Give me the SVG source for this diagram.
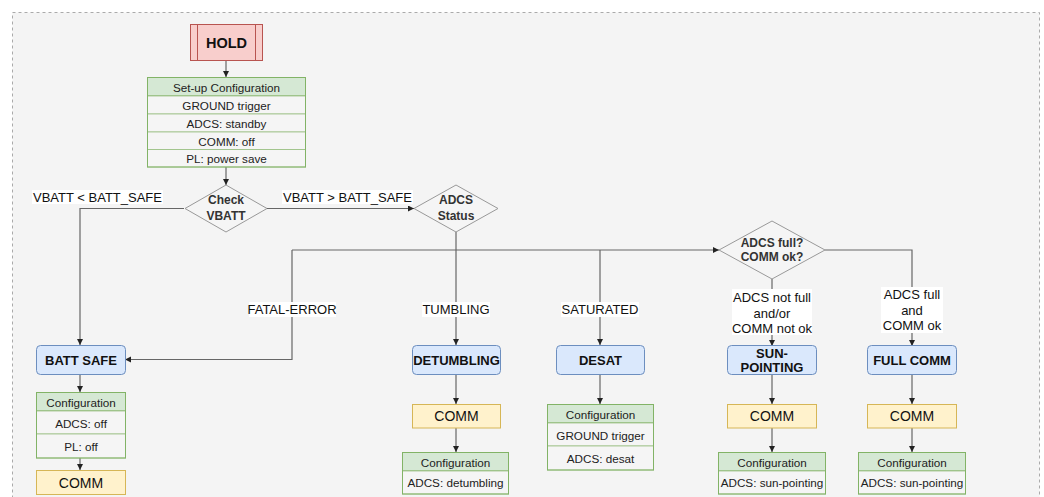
<svg xmlns="http://www.w3.org/2000/svg" width="1044" height="497" viewBox="0 0 1044 497">
  <defs>
    <marker id="arr" markerWidth="8" markerHeight="8" refX="6" refY="3" orient="auto" markerUnits="userSpaceOnUse">
      <path d="M0,0 L6,3 L0,6 Z" fill="#222"/>
    </marker>
    <style>
      text { font-family: "Liberation Sans", Arial, sans-serif; text-anchor: middle; dominant-baseline: central; fill: #111; }
      .frame { fill: #f4f4f4; stroke: #aaa; stroke-dasharray: 3 3; }
      .hold { fill: #f8cecc; stroke: #b85450; }
      .state { fill: #dae8fc; stroke: #6c8ebf; }
      .comm { fill: #fff2cc; stroke: #d6b656; }
      .thead { fill: #d5e8d4; stroke: #82b366; }
      .trow { fill: #f5f5f5; stroke: #82b366; stroke-opacity: 0.6; }
      .dec { fill: #f5f5f5; stroke: #999; }
      .edge { fill: none; stroke: #666; stroke-width: 1.2; }
      .lblbg { fill: #fff; }
      .b13 { font-size: 13px; font-weight: bold; }
      .dt { font-size: 12px; font-weight: bold; fill: #333; }
      .t12 { font-size: 11.7px; fill: #222; }
      .t13 { font-size: 13px; }
      .t14 { font-size: 14px; }
    </style>
  </defs>

  <!-- outer dashed frame -->
  <rect class="frame" x="12.5" y="12.5" width="1027" height="500"/>

  <!-- connectors -->
  <g id="connectors">
    <path class="edge" d="M226,60 V77" marker-end="url(#arr)"/>
    <path class="edge" d="M226,167 V185" marker-end="url(#arr)"/>
    <path class="edge" d="M184,208.5 H80 V345" marker-end="url(#arr)"/>
    <path class="edge" d="M267,208.5 H414" marker-end="url(#arr)"/>
    <path class="edge" d="M456,232 V345" marker-end="url(#arr)"/>
    <path class="edge" d="M292,250 H719" marker-end="url(#arr)"/>
    <path class="edge" d="M292,250 V359.5 H125" marker-end="url(#arr)"/>
    <path class="edge" d="M600,250 V345" marker-end="url(#arr)"/>
    <path class="edge" d="M772,279 V346" marker-end="url(#arr)"/>
    <path class="edge" d="M825,250 H912 V346" marker-end="url(#arr)"/>
    <!-- BATT SAFE chain -->
    <path class="edge" d="M80,375 V392" marker-end="url(#arr)"/>
    <path class="edge" d="M80,458 V470" marker-end="url(#arr)"/>
    <!-- DETUMBLING chain -->
    <path class="edge" d="M456,375 V404" marker-end="url(#arr)"/>
    <path class="edge" d="M456,428 V452" marker-end="url(#arr)"/>
    <!-- DESAT chain -->
    <path class="edge" d="M600,375 V404" marker-end="url(#arr)"/>
    <!-- SUN-POINTING chain -->
    <path class="edge" d="M772,375 V404" marker-end="url(#arr)"/>
    <path class="edge" d="M772,428 V452" marker-end="url(#arr)"/>
    <!-- FULL COMM chain -->
    <path class="edge" d="M912,375 V404" marker-end="url(#arr)"/>
    <path class="edge" d="M912,428 V452" marker-end="url(#arr)"/>

    <!-- edge labels -->
    <rect class="lblbg" x="32" y="190" width="131" height="14"/>
    <text class="t13" x="97.5" y="197">VBATT &lt; BATT_SAFE</text>
    <rect class="lblbg" x="282" y="190" width="131" height="14"/>
    <text class="t13" x="347.5" y="197">VBATT &gt; BATT_SAFE</text>
    <rect class="lblbg" x="249" y="302" width="87" height="15"/>
    <text class="t13" x="292" y="309.5">FATAL-ERROR</text>
    <rect class="lblbg" x="422" y="302" width="68" height="15"/>
    <text class="t13" x="456" y="309.5">TUMBLING</text>
    <rect class="lblbg" x="561" y="302" width="78" height="15"/>
    <text class="t13" x="600" y="309.5">SATURATED</text>
    <rect class="lblbg" x="732" y="289" width="80" height="46"/>
    <text class="t13" x="772" y="297.5">ADCS not full</text>
    <text class="t13" x="772" y="313">and/or</text>
    <text class="t13" x="772" y="328.5">COMM not ok</text>
    <rect class="lblbg" x="881" y="287" width="62" height="46"/>
    <text class="t13" x="912" y="294.5">ADCS full</text>
    <text class="t13" x="912" y="310">and</text>
    <text class="t13" x="912" y="325.5">COMM ok</text>
  </g>

  <!-- HOLD -->
  <g id="hold">
    <rect class="hold" x="190.5" y="24.5" width="72" height="36"/>
    <path d="M197.5,24.5 V60.5 M255.5,24.5 V60.5" stroke="#b85450" fill="none"/>
    <text x="226.5" y="43" style="font-size:14.5px;font-weight:bold">HOLD</text>
  </g>

  <!-- set-up configuration table -->
  <g id="setup-config">
    <rect class="thead" x="147.5" y="77.5" width="158" height="18.5"/>
    <rect class="trow" x="147.5" y="96" width="158" height="18"/>
    <rect class="trow" x="147.5" y="114" width="158" height="18"/>
    <rect class="trow" x="147.5" y="132" width="158" height="17.5"/>
    <rect class="trow" x="147.5" y="149.5" width="158" height="17.5"/>
    <rect x="147.5" y="77.5" width="158" height="89.5" fill="none" stroke="#82b366"/>
    <text class="t12" x="226.5" y="87">Set-up Configuration</text>
    <text class="t12" x="226.5" y="105">GROUND trigger</text>
    <text class="t12" x="226.5" y="123">ADCS: standby</text>
    <text class="t12" x="226.5" y="141">COMM: off</text>
    <text class="t12" x="226.5" y="158.5">PL: power save</text>
  </g>

  <!-- decisions -->
  <g id="check-vbatt">
    <polygon class="dec" points="226,185 267,208.5 226,232 185,208.5"/>
    <text class="dt" x="226" y="200">Check</text>
    <text class="dt" x="226" y="216">VBATT</text>
  </g>
  <g id="adcs-status">
    <polygon class="dec" points="456,185 498,208.5 456,232 414,208.5"/>
    <text class="dt" x="456" y="200">ADCS</text>
    <text class="dt" x="456" y="216">Status</text>
  </g>
  <g id="adcs-comm-check">
    <polygon class="dec" points="772,221 825,250 772,279 719,250"/>
    <text class="dt" x="772" y="243">ADCS full?</text>
    <text class="dt" x="772" y="257">COMM ok?</text>
  </g>

  <!-- BATT SAFE branch -->
  <g id="batt-safe">
    <rect class="state" x="36.5" y="345.5" width="89" height="29" rx="4"/>
    <text class="b13" x="81" y="360">BATT SAFE</text>
  </g>
  <g id="batt-safe-config">
    <rect class="thead" x="36.5" y="392.5" width="89" height="18.5"/>
    <rect class="trow" x="36.5" y="411" width="89" height="23"/>
    <rect class="trow" x="36.5" y="434" width="89" height="24"/>
    <rect x="36.5" y="392.5" width="89" height="65.5" fill="none" stroke="#82b366"/>
    <text class="t12" x="81" y="402">Configuration</text>
    <text class="t12" x="81" y="423">ADCS: off</text>
    <text class="t12" x="81" y="446.5">PL: off</text>
  </g>
  <g id="batt-safe-comm">
    <rect class="comm" x="36.5" y="470.5" width="89" height="24"/>
    <text class="t14" x="81" y="482.5">COMM</text>
  </g>

  <!-- DETUMBLING branch -->
  <g id="detumbling">
    <rect class="state" x="412.5" y="345.5" width="88" height="29" rx="4"/>
    <text class="b13" x="456.5" y="360">DETUMBLING</text>
  </g>
  <g id="detumbling-comm">
    <rect class="comm" x="412.5" y="404.5" width="88" height="23.5"/>
    <text class="t14" x="456.5" y="416">COMM</text>
  </g>
  <g id="detumbling-config">
    <rect class="thead" x="402.5" y="452.5" width="106" height="18.5"/>
    <rect class="trow" x="402.5" y="471" width="106" height="23"/>
    <rect x="402.5" y="452.5" width="106" height="41.5" fill="none" stroke="#82b366"/>
    <text class="t12" x="455.5" y="462">Configuration</text>
    <text class="t12" x="455.5" y="482.5">ADCS: detumbling</text>
  </g>

  <!-- DESAT branch -->
  <g id="desat">
    <rect class="state" x="556.5" y="345.5" width="88" height="29" rx="4"/>
    <text class="b13" x="600.5" y="360">DESAT</text>
  </g>
  <g id="desat-config">
    <rect class="thead" x="547.5" y="404.5" width="106" height="18.5"/>
    <rect class="trow" x="547.5" y="423" width="106" height="23"/>
    <rect class="trow" x="547.5" y="446" width="106" height="24"/>
    <rect x="547.5" y="404.5" width="106" height="65.5" fill="none" stroke="#82b366"/>
    <text class="t12" x="600.5" y="414">Configuration</text>
    <text class="t12" x="600.5" y="435">GROUND trigger</text>
    <text class="t12" x="600.5" y="458.5">ADCS: desat</text>
  </g>

  <!-- SUN-POINTING branch -->
  <g id="sun-pointing">
    <rect class="state" x="727.5" y="345.5" width="89" height="29" rx="4"/>
    <text class="b13" x="772" y="353">SUN-</text>
    <text class="b13" x="772" y="367.5">POINTING</text>
  </g>
  <g id="sun-pointing-comm">
    <rect class="comm" x="727.5" y="404.5" width="89" height="23.5"/>
    <text class="t14" x="772" y="416">COMM</text>
  </g>
  <g id="sun-pointing-config">
    <rect class="thead" x="718.5" y="452.5" width="107" height="18.5"/>
    <rect class="trow" x="718.5" y="471" width="107" height="23"/>
    <rect x="718.5" y="452.5" width="107" height="41.5" fill="none" stroke="#82b366"/>
    <text class="t12" x="772" y="462">Configuration</text>
    <text class="t12" x="772" y="482.5">ADCS: sun-pointing</text>
  </g>

  <!-- FULL COMM branch -->
  <g id="full-comm">
    <rect class="state" x="867.5" y="345.5" width="89" height="29" rx="4"/>
    <text class="b13" x="912" y="360">FULL COMM</text>
  </g>
  <g id="full-comm-comm">
    <rect class="comm" x="867.5" y="404.5" width="89" height="23.5"/>
    <text class="t14" x="912" y="416">COMM</text>
  </g>
  <g id="full-comm-config">
    <rect class="thead" x="858.5" y="452.5" width="107" height="18.5"/>
    <rect class="trow" x="858.5" y="471" width="107" height="23"/>
    <rect x="858.5" y="452.5" width="107" height="41.5" fill="none" stroke="#82b366"/>
    <text class="t12" x="912" y="462">Configuration</text>
    <text class="t12" x="912" y="482.5">ADCS: sun-pointing</text>
  </g>
</svg>
